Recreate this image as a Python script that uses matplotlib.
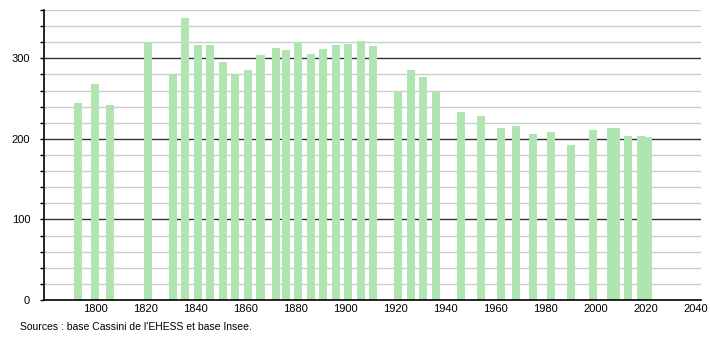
import matplotlib.pyplot as plt
from matplotlib.ticker import MultipleLocator

plt.rcParams['font.family'] = ['Liberation Sans', 'DejaVu Sans']

# Données (recensements)
annees = [1793, 1800, 1806, 1821, 1831, 1836, 1841, 1846, 1851, 1856,
          1861, 1866, 1872, 1876, 1881, 1886, 1891, 1896, 1901, 1906,
          1911, 1921, 1926, 1931, 1936, 1946, 1954, 1962, 1968, 1975,
          1982, 1990, 1999, 2006, 2008, 2013, 2018, 2021]
population = [244, 268, 242, 320, 280, 350, 317, 317, 295, 280,
              285, 304, 313, 310, 320, 305, 312, 317, 318, 322,
              315, 258, 285, 277, 258, 233, 228, 214, 216, 206,
              208, 192, 211, 214, 213, 203, 203, 202]
ticks_x = [1800, 1820, 1840, 1860, 1880, 1900, 1920, 1940, 1960, 1980, 2000, 2020, 2040]

fig = plt.figure(figsize=(7.1, 3.4), dpi=100)
ax = fig.add_axes([44 / 710, 40 / 340, 657 / 710, 290 / 340])

# grille : fine tous les 20, foncée tous les 100
for y in range(20, 361, 20):
    if y % 100 == 0:
        ax.axhline(y, color='#333333', lw=1.0, zorder=1)
    else:
        ax.axhline(y, color='#cccccc', lw=1.0, zorder=1)

ax.bar(annees, population, width=3.2, color='#b0e4b0', zorder=2)

ax.set_xlim(1779.5, 2042)
ax.set_ylim(0, 360)
ax.set_xticks(ticks_x)
ax.yaxis.set_major_locator(MultipleLocator(100))
ax.yaxis.set_minor_locator(MultipleLocator(20))

for s in ['top', 'right']:
    ax.spines[s].set_visible(False)
ax.spines['left'].set_linewidth(1.2)
ax.spines['bottom'].set_linewidth(1.2)
ax.spines['left'].set_zorder(3)
ax.spines['bottom'].set_zorder(3)

ax.tick_params(axis='x', length=0, labelsize=8, pad=3)
ax.tick_params(axis='y', which='major', length=3, width=1.0, labelsize=8, pad=7)
ax.tick_params(axis='y', which='minor', length=3, width=1.0)

fig.text(20 / 710, 1 - 327 / 340, "Sources : base Cassini de l'EHESS et base Insee.",
         fontsize=7.5, va='center', ha='left')

fig.savefig('out.png', dpi=100)
